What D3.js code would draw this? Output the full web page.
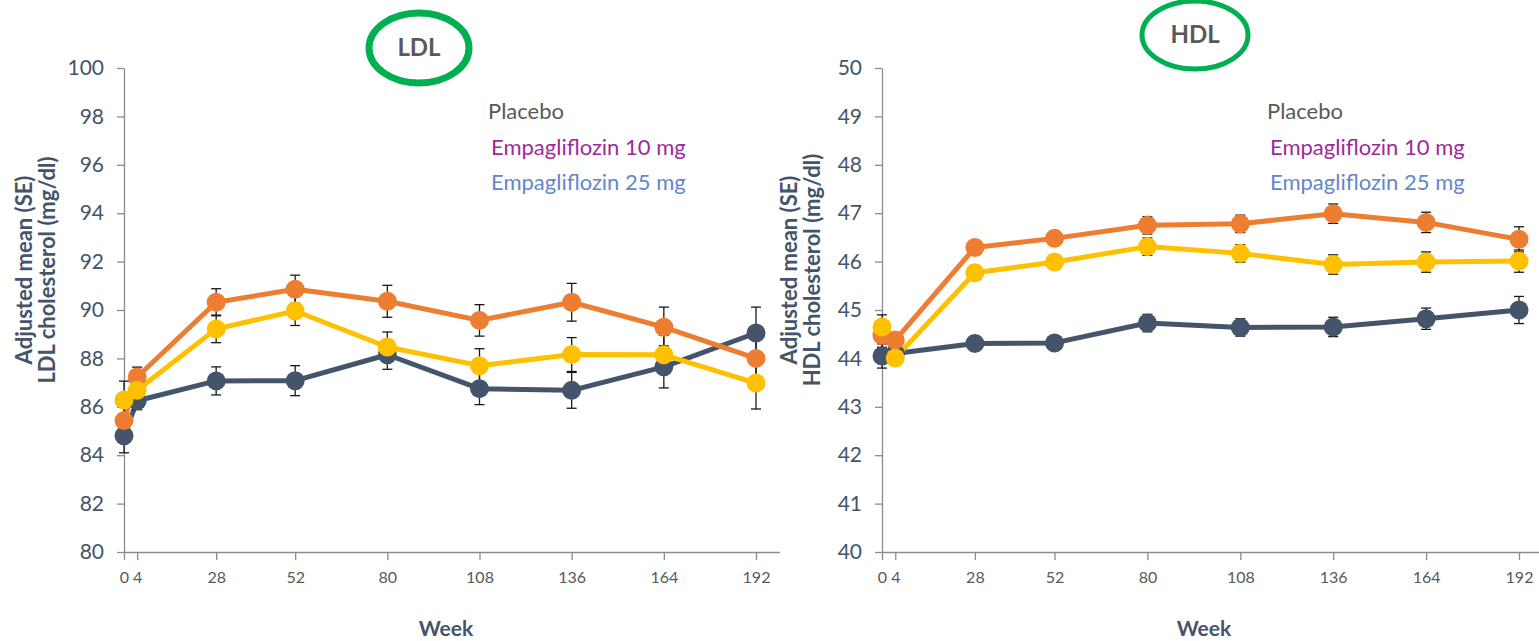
<!DOCTYPE html>
<html>
<head>
<meta charset="utf-8">
<script src="https://cdn.jsdelivr.net/npm/d3@7/dist/d3.min.js"></script>
<style>
  html, body { margin: 0; padding: 0; background: #fff; }
  svg { display: block; font-family: Lato, "Open Sans", sans-serif; }
</style>
</head>
<body>
<svg id="chart" width="1539" height="641"></svg>
<script>
// Study weeks on the x axis
const weeks = [0, 4, 28, 52, 80, 108, 136, 164, 192];
const weekLabels = ["0", "4", "28", "52", "80", "108", "136", "164", "192"];

const seriesNames = ["Placebo", "Empagliflozin 10 mg", "Empagliflozin 25 mg"];

// LDL cholesterol, adjusted mean (mg/dl) and SE
const ldlPlacebo = [84.8, 86.25, 87.07, 87.08, 88.15, 86.75, 86.68, 87.65, 89.05];
const ldlEmpa10  = [85.43, 87.23, 90.32, 90.86, 90.36, 89.57, 90.32, 89.29, 88.0];
const ldlEmpa25  = [86.28, 86.68, 89.22, 89.96, 88.47, 87.7, 88.16, 88.15, 86.98];
const ldlPlaceboSE = [0.7, 0.37, 0.58, 0.62, 0.6, 0.66, 0.74, 0.87, 1.07];
const ldlEmpa10SE  = [0.75, 0.41, 0.56, 0.58, 0.66, 0.65, 0.78, 0.83, 1.0];
const ldlEmpa25SE  = [0.78, 0.4, 0.57, 0.6, 0.62, 0.7, 0.7, 0.8, 1.07];
const ldlTicks = [80, 82, 84, 86, 88, 90, 92, 94, 96, 98, 100];

// HDL cholesterol, adjusted mean (mg/dl) and SE
const hdlPlacebo = [44.05, 44.1, 44.31, 44.32, 44.73, 44.64, 44.65, 44.82, 45.0];
const hdlEmpa10  = [44.48, 44.38, 46.29, 46.48, 46.75, 46.78, 46.99, 46.81, 46.46];
const hdlEmpa25  = [44.65, 44.01, 45.77, 45.99, 46.31, 46.17, 45.94, 45.99, 46.01];
const hdlPlaceboSE = [0.25, 0.15, 0.15, 0.15, 0.18, 0.18, 0.2, 0.22, 0.28];
const hdlEmpa10SE  = [0.25, 0.15, 0.15, 0.15, 0.18, 0.18, 0.2, 0.21, 0.26];
const hdlEmpa25SE  = [0.25, 0.15, 0.15, 0.15, 0.18, 0.18, 0.2, 0.21, 0.23];
const hdlTicks = [40, 41, 42, 43, 44, 45, 46, 47, 48, 49, 50];

const lineColors = ["#44546a", "#ed7d31", "#ffc000"];
const legendColors = ["#595959", "#a0299a", "#6586cb"];
const navy = "#44546a";
const axisGrey = "#8c8c8c";

const svg = d3.select("#chart");

function drawPanel(p) {
  const x = d3.scaleLinear().domain([0, 192]).range([p.x0, p.x1]);
  const y = d3.scaleLinear().domain(p.yDomain).range([552, 68]);
  const g = svg.append("g");

  // y axis
  const yAxis = g.append("g")
    .attr("transform", `translate(${p.x0},0)`)
    .call(d3.axisLeft(y).tickValues(p.yTicks).tickSize(7).tickSizeOuter(0).tickPadding(13));
  yAxis.select(".domain").attr("stroke", axisGrey).attr("stroke-width", 1.3);
  yAxis.selectAll(".tick line").attr("stroke", axisGrey).attr("stroke-width", 1.3);
  yAxis.selectAll(".tick text")
    .attr("fill", navy).attr("font-size", 21).attr("font-family", "Lato, sans-serif");

  // x axis
  const xAxis = g.append("g")
    .attr("transform", "translate(0,552)")
    .call(d3.axisBottom(x).tickValues(weeks).tickFormat((d, i) => weekLabels[i])
      .tickSize(8).tickSizeOuter(0).tickPadding(12));
  xAxis.select(".domain").attr("d", `M${p.x0},0.5H${p.axisEnd}`)
    .attr("stroke", axisGrey).attr("stroke-width", 1.3);
  xAxis.selectAll(".tick line").attr("stroke", axisGrey).attr("stroke-width", 1.3);
  xAxis.selectAll(".tick text")
    .attr("fill", "#595959").attr("font-size", 16).attr("font-family", "Lato, sans-serif");

  // axis titles
  g.append("text")
    .attr("transform", `translate(${p.titleX},270) rotate(-90)`)
    .attr("text-anchor", "middle").attr("font-weight", "bold")
    .attr("font-size", 22).attr("fill", navy)
    .selectAll("tspan").data(["Adjusted mean (SE)", p.yTitle]).join("tspan")
    .attr("x", 0).attr("dy", (d, i) => i === 0 ? 0 : 23).text(d => d);

  g.append("text")
    .attr("x", p.weekX).attr("y", 636)
    .attr("text-anchor", "middle").attr("font-weight", "bold")
    .attr("font-size", 21).attr("fill", navy).text("Week");

  // series
  const series = p.values.map((vals, s) => ({
    color: lineColors[s],
    pts: weeks.map((w, i) => ({ w, v: vals[i], se: p.se[s][i] }))
  }));
  const line = d3.line().x(d => x(d.w)).y(d => y(d.v));

  series.forEach(s => {
    g.append("path").datum(s.pts)
      .attr("d", line).attr("fill", "none")
      .attr("stroke", s.color).attr("stroke-width", 5).attr("stroke-linejoin", "round");
  });

  // error bars
  series.forEach(s => {
    const eb = g.append("g").selectAll("g").data(s.pts).join("g")
      .attr("stroke", "#1a1a1a").attr("stroke-width", 1.3);
    eb.append("line")
      .attr("x1", d => x(d.w)).attr("x2", d => x(d.w))
      .attr("y1", d => y(d.v - d.se)).attr("y2", d => y(d.v + d.se));
    eb.append("line")
      .attr("x1", d => x(d.w) - 5).attr("x2", d => x(d.w) + 5)
      .attr("y1", d => y(d.v + d.se)).attr("y2", d => y(d.v + d.se));
    eb.append("line")
      .attr("x1", d => x(d.w) - 5).attr("x2", d => x(d.w) + 5)
      .attr("y1", d => y(d.v - d.se)).attr("y2", d => y(d.v - d.se));
  });

  // markers
  series.forEach(s => {
    g.append("g").selectAll("circle").data(s.pts).join("circle")
      .attr("cx", d => x(d.w)).attr("cy", d => y(d.v)).attr("r", 9.5)
      .attr("fill", s.color);
  });

  // legend
  g.append("g").selectAll("text").data(seriesNames).join("text")
    .attr("x", (d, i) => p.legendX + (i === 0 ? 0 : 3))
    .attr("y", (d, i) => 119 + i * 35.5)
    .attr("font-size", 22).attr("fill", (d, i) => legendColors[i])
    .text(d => d);

  // lipid badge
  g.append("ellipse")
    .attr("cx", p.badge.cx).attr("cy", p.badge.cy)
    .attr("rx", p.badge.rx).attr("ry", p.badge.ry)
    .attr("fill", "none").attr("stroke", "#00b050").attr("stroke-width", p.badge.sw);
  g.append("text")
    .attr("x", p.badge.cx).attr("y", p.badge.cy + 8)
    .attr("text-anchor", "middle").attr("font-weight", "bold")
    .attr("font-size", 24).attr("fill", "#595959").text(p.badge.label);
}

drawPanel({
  x0: 124, x1: 756, axisEnd: 780,
  yDomain: [80, 100], yTicks: ldlTicks,
  yTitle: "LDL cholesterol (mg/dl)", titleX: 32, weekX: 446, legendX: 488,
  values: [ldlPlacebo, ldlEmpa10, ldlEmpa25],
  se: [ldlPlaceboSE, ldlEmpa10SE, ldlEmpa25SE],
  badge: { cx: 419, cy: 48, rx: 50, ry: 35, sw: 7, label: "LDL" }
});

drawPanel({
  x0: 882, x1: 1519, axisEnd: 1539,
  yDomain: [40, 50], yTicks: hdlTicks,
  yTitle: "HDL cholesterol (mg/dl)", titleX: 797, weekX: 1204, legendX: 1267,
  values: [hdlPlacebo, hdlEmpa10, hdlEmpa25],
  se: [hdlPlaceboSE, hdlEmpa10SE, hdlEmpa25SE],
  badge: { cx: 1195, cy: 35, rx: 53, ry: 34, sw: 5, label: "HDL" }
});
</script>
</body>
</html>
